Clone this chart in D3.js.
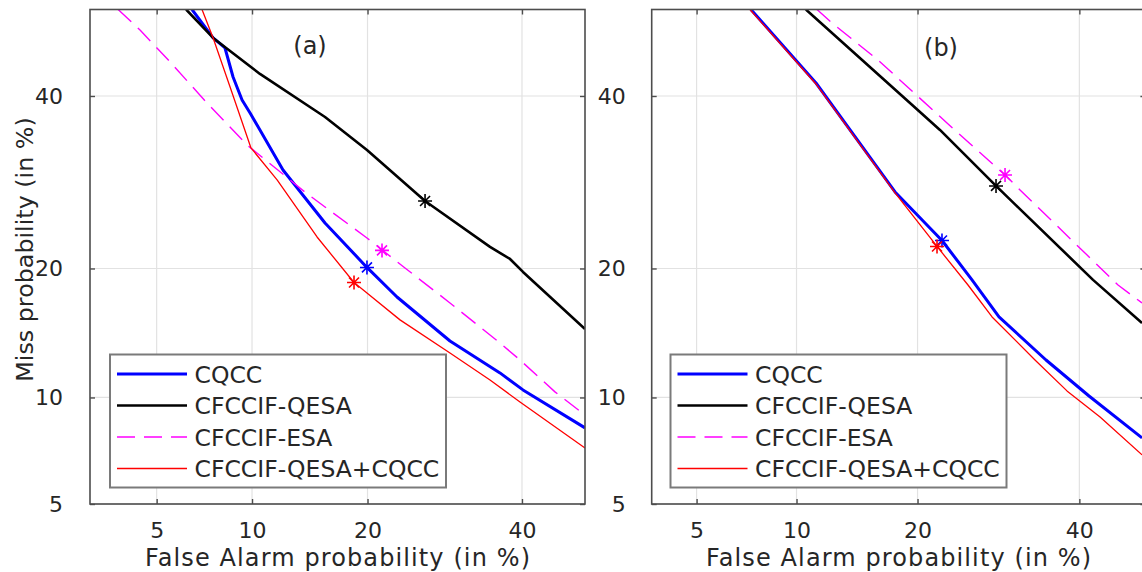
<!DOCTYPE html>
<html>
<head>
<meta charset="utf-8">
<script src="https://cdn.jsdelivr.net/npm/d3@7"></script>
<style>
  html, body { margin: 0; padding: 0; background: #fff; overflow: hidden; }
  svg { display: block; }
  text { font-family: "DejaVu Sans", sans-serif; fill: #262626; }
</style>
</head>
<body>
<svg id="chart" width="1142" height="572"></svg>
<script>
// ---- data: DET curves, each point is [false alarm %, miss %] ----
const seriesNames = ["CQCC", "CFCCIF-QESA", "CFCCIF-ESA", "CFCCIF-QESA+CQCC"];
const tickPercents = [5, 10, 20, 40];
const panelLabels = ["(a)", "(b)"];

// panel (a)
const cqccA = [[6.55,51.66],[7.64,47.79],[8.31,46.43],[8.79,42.52],[9.35,39.48],[9.87,37.78],[10.54,35.60],
  [12.23,30.65],[15.78,24.62],[19.94,20.10],[23.29,17.39],[29.89,13.81],[36.80,11.55],[40.15,10.46],[49.47,8.30]];
const qesaA = [[6.27,51.66],[7.64,47.79],[10.54,42.93],[15.78,37.26],[19.94,33.09],[26.68,27.05],
  [35.38,22.12],[38.25,20.92],[40.15,19.67],[49.47,14.73]];
const esaA = [[3.66,51.66],[4.38,48.87],[5.55,44.54],[7.31,39.08],[9.67,33.71],[14.10,27.96],[19.94,23.04],
  [24.23,20.05],[29.89,16.87],[36.80,13.66],[39.71,12.43],[44.92,10.34],[49.47,8.99]];
const fusedA = [[7.05,51.66],[7.64,47.79],[8.61,41.19],[9.93,33.34],[11.78,29.47],[15.06,23.14],[18.59,18.69],
  [19.94,17.75],[23.64,15.46],[29.89,12.93],[35.38,11.09],[39.71,9.73],[49.47,7.30]];
// operating points (asterisks), same order as seriesNames
const opPointsA = [[19.94,20.10],[26.68,27.05],[21.58,21.77],[18.59,18.69]];

// panel (b)
const cqccB = [[7.39,51.66],[11.30,41.72],[17.79,28.07],[22.58,22.78],[25.99,18.93],[29.27,15.70],
  [35.40,12.43],[41.36,10.09],[48.98,7.79]];
const qesaB = [[10.61,51.66],[19.24,39.08],[22.36,35.60],[28.90,28.77],[41.93,18.93],[48.98,15.21]];
const esaB = [[11.37,51.66],[12.45,49.82],[16.22,44.81],[23.13,36.49],[30.03,30.06],[31.95,28.30],
  [45.51,18.46],[48.98,16.87]];
const fusedB = [[7.34,51.66],[11.30,41.59],[17.79,27.96],[22.04,22.17],[25.52,18.46],[28.41,15.70],
  [33.92,12.43],[38.27,10.40],[42.93,8.88],[48.98,6.98]];
const opPointsB = [[22.58,22.78],[28.90,28.77],[30.03,30.06],[22.04,22.17]];

// axis limits (percent)
const missRange = [5, 51.66];
const faRangeA = [2.88, 49.47];
const faRangeB = [3.53, 49.47];

// ---- normal deviate (probit) transform used by DET axes ----
function probit(p) {
  const a = [-3.969683028665376e+01, 2.209460984245205e+02, -2.759285104469687e+02, 1.383577518672690e+02, -3.066479806614716e+01, 2.506628277459239e+00];
  const b = [-5.447609879822406e+01, 1.615858368580409e+02, -1.556989798598866e+02, 6.680131188771972e+01, -1.328068155288572e+01];
  const c = [-7.784894002430293e-03, -3.223964580411365e-01, -2.400758277161838e+00, -2.549732539343734e+00, 4.374664141464968e+00, 2.938163982698783e+00];
  const d = [7.784695709041462e-03, 3.224671290700398e-01, 2.445134137142996e+00, 3.754408661907416e+00];
  const pl = 0.02425, ph = 1 - pl;
  let q, r;
  if (p < pl) {
    q = Math.sqrt(-2 * Math.log(p));
    return (((((c[0]*q+c[1])*q+c[2])*q+c[3])*q+c[4])*q+c[5]) / ((((d[0]*q+d[1])*q+d[2])*q+d[3])*q+1);
  }
  if (p <= ph) {
    q = p - 0.5; r = q * q;
    return (((((a[0]*r+a[1])*r+a[2])*r+a[3])*r+a[4])*r+a[5])*q / (((((b[0]*r+b[1])*r+b[2])*r+b[3])*r+b[4])*r+1);
  }
  q = Math.sqrt(-2 * Math.log(1 - p));
  return -(((((c[0]*q+c[1])*q+c[2])*q+c[3])*q+c[4])*q+c[5]) / ((((d[0]*q+d[1])*q+d[2])*q+d[3])*q+1);
}
const pr = v => probit(v / 100);

// ---- styling ----
const styles = [
  { color: "#0000ff", width: 3.0, dash: null },
  { color: "#000000", width: 2.6, dash: null },
  { color: "#ff00ff", width: 1.4, dash: "18,9" },
  { color: "#ff0000", width: 1.3, dash: null }
];
const FONT_TICK = 22, FONT_LEGEND = 23.5, FONT_XLABEL = 24, FONT_YLABEL = 23.8, FONT_TAG = 24;
const plotTop = 9.5, plotBottom = 504;

const panels = [
  { tag: panelLabels[0], left: 90, right: 585, fa: faRangeA, curves: [cqccA, qesaA, esaA, fusedA], ops: opPointsA,
    legendX: 110, tagPos: [310, 54], yLabel: true },
  { tag: panelLabels[1], left: 651.7, right: 1145.4, fa: faRangeB, curves: [cqccB, qesaB, esaB, fusedB], ops: opPointsB,
    legendX: 670.5, tagPos: [941, 56], yLabel: false }
];

const svg = d3.select("#chart");
svg.append("rect").attr("width", 1142).attr("height", 572).attr("fill", "#fff");

const y = d3.scaleLinear().domain(missRange.map(pr)).range([plotBottom, plotTop]);
const tickVals = tickPercents.map(pr);
const fmt = v => String(tickPercents[tickVals.findIndex(t => Math.abs(t - v) < 1e-9)]);

panels.forEach((P, pi) => {
  const x = d3.scaleLinear().domain(P.fa.map(pr)).range([P.left, P.right]);
  const W = P.right - P.left, H = plotBottom - plotTop;
  const g = svg.append("g");

  const clipId = "clip" + pi;
  g.append("clipPath").attr("id", clipId)
    .append("rect").attr("x", P.left).attr("y", plotTop).attr("width", W).attr("height", H);

  // grid
  const grid = g.append("g").attr("stroke", "#e2e2e2").attr("stroke-width", 1.2);
  grid.selectAll("line.gx").data(tickVals).join("line").attr("class", "gx")
    .attr("x1", d => x(d)).attr("x2", d => x(d)).attr("y1", plotTop).attr("y2", plotBottom);
  grid.selectAll("line.gy").data(tickVals).join("line").attr("class", "gy")
    .attr("y1", d => y(d)).attr("y2", d => y(d)).attr("x1", P.left).attr("x2", P.right);

  // curves
  const line = d3.line().x(d => x(pr(d[0]))).y(d => y(pr(d[1])));
  const curves = g.append("g").attr("clip-path", `url(#${clipId})`);
  P.curves.forEach((data, i) => {
    const s = styles[i];
    curves.append("path").datum(data)
      .attr("d", line).attr("fill", "none")
      .attr("stroke", s.color).attr("stroke-width", s.width)
      .attr("stroke-linejoin", "round")
      .attr("stroke-dasharray", s.dash);
  });
  // operating points
  const star = "M-7,0H7M0,-7V7M-5,-5L5,5M-5,5L5,-5";
  P.ops.forEach((d, i) => {
    curves.append("path").attr("d", star)
      .attr("transform", `translate(${x(pr(d[0]))},${y(pr(d[1]))})`)
      .attr("fill", "none").attr("stroke", styles[i].color).attr("stroke-width", 1.6);
  });

  // inner tick marks on all four sides
  const tickLen = 5;
  const mk = (axis, tr) => g.append("g").attr("transform", tr)
    .call(axis.tickValues(tickVals).tickSize(-tickLen).tickFormat(""))
    .call(a => a.select(".domain").remove())
    .call(a => a.selectAll("line").attr("stroke", "#4d4d4d").attr("stroke-width", 1.4));
  mk(d3.axisBottom(x), `translate(0,${plotBottom})`);
  mk(d3.axisTop(x), `translate(0,${plotTop})`);
  mk(d3.axisLeft(y), `translate(${P.left},0)`);
  mk(d3.axisRight(y), `translate(${P.right},0)`);

  // tick labels
  g.append("g").attr("transform", `translate(0,${plotBottom})`)
    .call(d3.axisBottom(x).tickValues(tickVals).tickFormat(fmt).tickSize(0).tickPadding(18))
    .call(a => a.select(".domain").remove())
    .call(a => a.selectAll("text").attr("font-size", FONT_TICK).attr("font-family", "DejaVu Sans").attr("fill", "#262626"));
  g.append("g").attr("transform", `translate(${P.left},0)`)
    .call(d3.axisLeft(y).tickValues(tickVals).tickFormat(fmt).tickSize(0).tickPadding(pi === 0 ? 27 : 26))
    .call(a => a.select(".domain").remove())
    .call(a => a.selectAll("text").attr("font-size", FONT_TICK).attr("font-family", "DejaVu Sans").attr("fill", "#262626"));

  // box
  g.append("rect").attr("x", P.left).attr("y", plotTop).attr("width", W).attr("height", H)
    .attr("fill", "none").attr("stroke", "#4d4d4d").attr("stroke-width", 1.6);

  // panel tag
  g.append("text").attr("x", P.tagPos[0]).attr("y", P.tagPos[1])
    .attr("text-anchor", "middle").attr("font-size", FONT_TAG).text(P.tag);

  // axis labels
  g.append("text").attr("x", (P.left + P.right) / 2).attr("y", 566)
    .attr("text-anchor", "middle").attr("font-size", FONT_XLABEL)
    .attr("textLength", 385).attr("lengthAdjust", "spacing")
    .text("False Alarm probability (in %)");
  if (P.yLabel) {
    g.append("text").attr("transform", "translate(33,249.5) rotate(-90)")
      .attr("text-anchor", "middle").attr("font-size", FONT_YLABEL).text("Miss probability (in %)");
  }

  // legend
  const L = g.append("g").attr("transform", `translate(${P.legendX},354.5)`);
  L.append("rect").attr("width", 336).attr("height", 133)
    .attr("fill", "#fff").attr("stroke", "#7a7a7a").attr("stroke-width", 2);
  seriesNames.forEach((name, i) => {
    const cy = 19.5 + i * 31.5;
    const s = styles[i];
    L.append("line").attr("x1", 7).attr("x2", 77).attr("y1", cy).attr("y2", cy)
      .attr("stroke", s.color).attr("stroke-width", s.width).attr("stroke-dasharray", s.dash);
    L.append("text").attr("x", 84.5).attr("y", cy + 8.5)
      .attr("font-size", FONT_LEGEND).text(name);
  });
});
</script>
</body>
</html>
